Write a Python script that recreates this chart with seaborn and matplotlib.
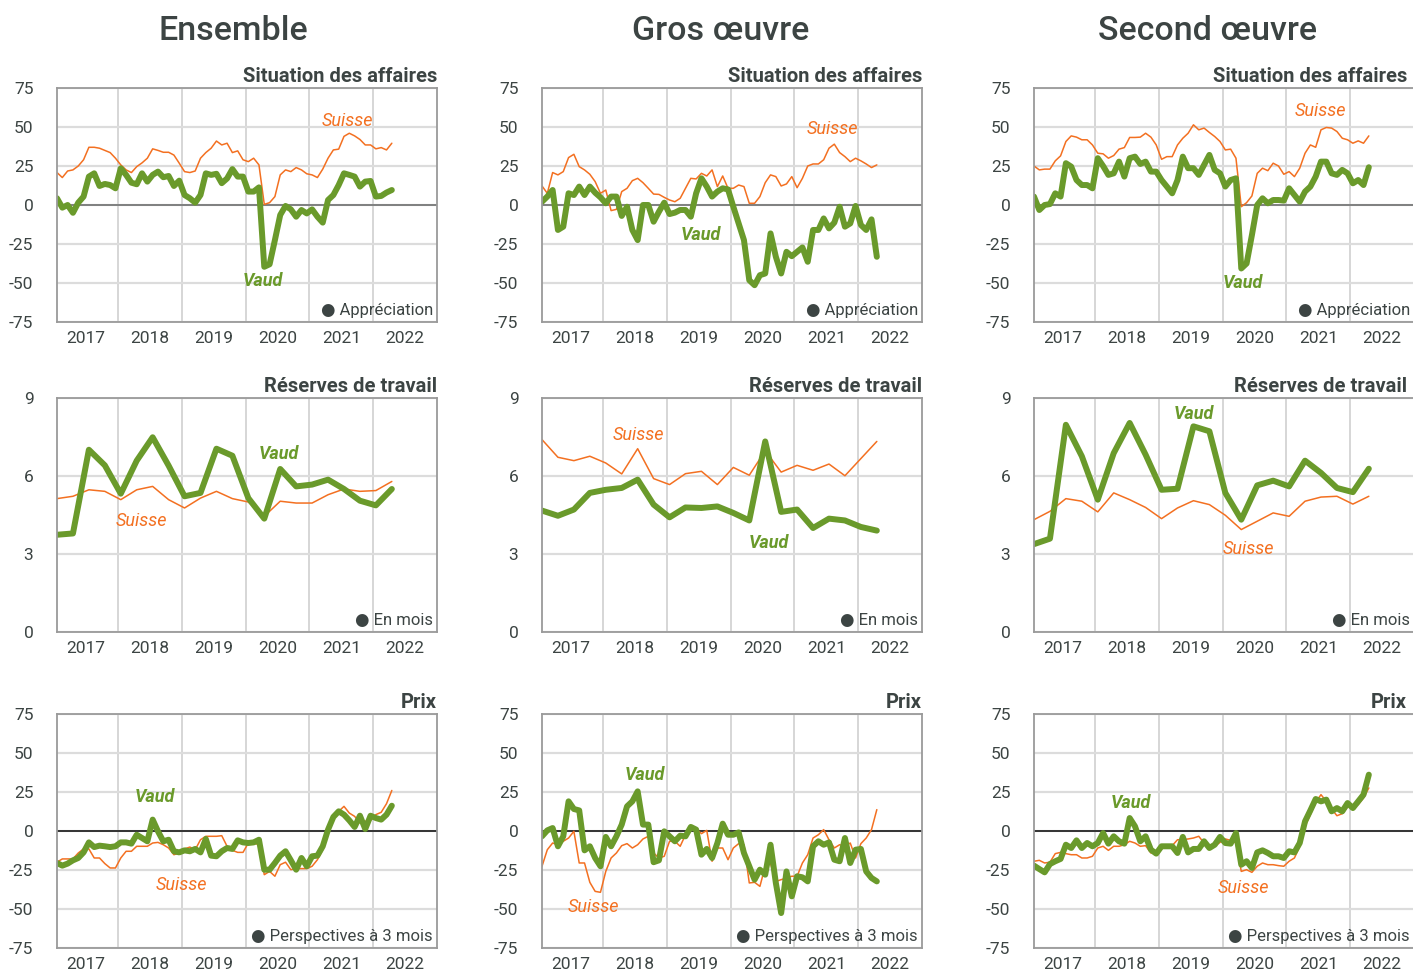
import numpy as np
import seaborn as sns
import matplotlib.pyplot as plt
from matplotlib import font_manager

# Séries mensuelles (janv. 2017 - avr. 2022), trimestrielles pour les réserves
ens_aff_vaud = [4.3, -1.7, 0, -5, 1.5, 5.4, 18.2, 20.3, 12.2, 13.5, 12.8, 10.7,
                23.5, 19.3, 14.3, 13.3, 20.3, 15, 19.3, 21.4, 17.8, 18.6, 12.2, 15.6,
                6.4, 4.3, 1.5, 6.4, 20.3, 19.3, 20, 14, 17, 23, 18.2, 18.2,
                8.6, 8.6, 11.3, -39.6, -38, -22.5, -6.4, -0.6, -2.8, -7.5, -3.2, -5.4,
                -2.8, -7.5, -11.3, 3.2, 6.4, 12.8, 20.3, 19.3, 18.2, 11.8, 15, 15.4,
                5.4, 5.8, 8, 9.6]
ens_aff_suisse = [20.8, 17.6, 21.8, 22.5, 25, 29, 37, 37, 36.4, 35, 33.6, 30,
                  25.7, 22.5, 20.8, 24.6, 27, 30, 36, 35, 33.8, 33.8, 32, 26.8,
                  21.4, 20.8, 21.8, 30, 33.6, 36.4, 41, 38.5, 39.6, 33.6, 34.7, 29,
                  27.8, 30, 25.7, 0.4, 1.5, 5.4, 19.3, 22.5, 21.4, 24, 22.5, 20,
                  19.3, 17.6, 23, 30, 35.3, 35.8, 44, 46, 44.3, 42, 38.5, 38.5,
                  36, 36.8, 35.3, 39.6]
gros_aff_vaud = [2.1, 5.4, 9.6, -16, -13.9, 7.5, 6.4, 11.8, 6.4, 11.8, 7.9, 4.9,
                 1.1, 5.4, 5.4, -7, -1.1, -16, -22.5, 0, 0, -10.7, -4.3, 1.5,
                 -5.8, -4.9, -3.2, -3.2, -7.5, 7.5, 17.1, 11.8, 5.4, 8.6, 10.7, 10,
                 -1.1, -11.8, -22.5, -48.2, -51.4, -45, -43.9, -18.2, -33.2, -43.9, -30, -32.8,
                 -30, -27.2, -36.4, -16, -16, -8.6, -15, -11.3, -1.1, -13.9, -11.8, -0.6,
                 -12.8, -16, -9.2, -33.2]
gros_aff_suisse = [12.2, 7.5, 20.8, 19.3, 21.4, 30.4, 32.5, 24.6, 22.5, 19.7, 15, 7.5,
                   9.6, -3.6, -2.8, 8.6, 10.7, 15.6, 17.1, 14.3, 10.7, 7, 6.8, 4.9,
                   3.2, 2.1, 4.3, 10.7, 17.1, 16.7, 20.3, 18.6, 22.5, 11.8, 18.6, 10.7,
                   10.7, 12.8, 11.8, 1.1, 1.1, 5.4, 14.3, 19.3, 18.2, 12.2, 13.5, 18.2,
                   11.1, 17.1, 25, 26.3, 26.3, 29, 36.4, 39, 33.6, 31, 27.8, 30,
                   28.3, 26.3, 24, 25.7]
sec_aff_vaud = [5.4, -3.2, 0, 0.6, 7.5, 5.4, 26.8, 24.6, 16, 12.8, 12.8, 10.7,
                30, 25, 19.3, 20.3, 27.8, 18.2, 30, 31, 26.3, 27.8, 21.4, 21.4,
                16, 11.8, 7.5, 16, 31, 23.6, 23.6, 19.3, 25.7, 32.1, 22.5, 20.3,
                11.8, 16, 17.1, -40.7, -37.5, -19.3, 0, 4.3, 1.1, 3.2, 3.2, 2.8,
                10.7, 6.4, 2.1, 8.6, 11.8, 18.2, 27.8, 27.8, 20.3, 19.3, 22.5, 20.3,
                13.9, 16, 12.8, 24.2]
sec_aff_suisse = [25, 22.5, 23, 23, 28.3, 31.5, 40.7, 44.3, 43.5, 41.8, 41.8, 38.5,
                  33.2, 32.8, 30, 31.7, 35.8, 36.8, 43.3, 43.3, 43.5, 46, 43.5, 38.5,
                  29.3, 31, 31, 38.5, 42.8, 46, 51.4, 48.2, 49.3, 46.5, 43.9, 40.7,
                  35.3, 35.8, 30, -1.1, 1.5, 5.8, 20.3, 23.6, 22, 26.8, 25, 19.7,
                  21.4, 18.2, 23.6, 33.2, 38.5, 37, 48.2, 49.7, 49.3, 47.1, 42.8, 41.8,
                  39.6, 41.1, 39.6, 44.3]

ens_res_vaud = [3.74, 3.79, 7.01, 6.41, 5.32, 6.59, 7.49, 6.4, 5.22, 5.35, 7.05,
                6.78, 5.15, 4.36, 6.27, 5.6, 5.67, 5.86, 5.5, 5.05, 4.87, 5.5]
ens_res_suisse = [5.13, 5.22, 5.47, 5.41, 5.09, 5.47, 5.6, 5.09, 4.77, 5.15, 5.41,
                  5.13, 5.0, 4.45, 5.03, 4.96, 4.96, 5.28, 5.5, 5.41, 5.44, 5.79]
gros_res_vaud = [4.67, 4.47, 4.71, 5.35, 5.47, 5.54, 5.86, 4.9, 4.41, 4.79, 4.77,
                 4.83, 4.58, 4.29, 7.33, 4.62, 4.71, 4.0, 4.36, 4.29, 4.04, 3.9]
gros_res_suisse = [7.4, 6.72, 6.59, 6.76, 6.5, 6.08, 7.05, 5.9, 5.67, 6.09, 6.18,
                   5.67, 6.33, 6.03, 6.97, 6.15, 6.41, 6.22, 6.46, 6.01, 6.67, 7.33]
sec_res_vaud = [3.38, 3.59, 7.97, 6.76, 5.09, 6.88, 8.04, 6.82, 5.47, 5.51, 7.91,
                7.72, 5.35, 4.32, 5.64, 5.82, 5.6, 6.59, 6.12, 5.54, 5.38, 6.28]
sec_res_suisse = [4.32, 4.64, 5.13, 5.03, 4.62, 5.35, 5.09, 4.79, 4.36, 4.77, 5.05,
                  4.9, 4.49, 3.94, 4.26, 4.58, 4.45, 5.03, 5.19, 5.22, 4.92, 5.22]

ens_prix_vaud = [-20.5, -22.2, -20.9, -18.8, -17.3, -13.7, -7.3, -10.3, -9.4, -9.8, -10.3, -9.8,
                 -7.3, -7.3, -8.1, -2.4, -4.5, -6.6, 7.3, -0.2, -6.6, -5.6, -13, -13.7,
                 -12.4, -13, -11.5, -13.7, -5.1, -15.8, -16.2, -13, -10.9, -11.5, -6, -7.3,
                 -7.7, -7.3, -5.6, -24.8, -24.8, -20.5, -15.8, -13, -18.8, -24.8, -17.3, -22.6,
                 -16.2, -15.8, -9.8, 0.9, 9, 12.6, 10.5, 6.8, 2.6, 9.8, 1.3, 9.8,
                 8.3, 7.3, 10.5, 16.2]
ens_prix_suisse = [-20, -17.9, -17.9, -17.9, -14.1, -11.5, -11.5, -17.3, -17.3, -20.9, -23.7, -23.7,
                   -17.3, -13, -13, -9.8, -9.8, -9.8, -7.7, -7.3, -8.8, -10.9, -15.2, -14.1,
                   -11.5, -10.3, -12, -5.6, -3.4, -3.4, -3.4, -3, -9.8, -12.4, -13.7, -13.7,
                   -7.7, -7.7, -8.8, -28, -25.9, -29, -21.6, -20, -24.8, -24.1, -24.1, -24.1,
                   -22.6, -18.4, -12, -0.2, 8.3, 12.6, 15.8, 11.5, 9.4, 5.1, 6.2, 6.8,
                   10.5, 12, 17.5, 26]
gros_prix_vaud = [-3.4, 0.4, 1.9, -9.8, -3.4, 19, 14.1, 13.2, -12.4, -9.8, -17.3, -22.6,
                  -3.8, -9.8, -3.4, 4.1, 15.8, 19, 25.4, 4.1, 4.1, -20, -18.8, -0.2,
                  -3.4, -6.6, -3, -3.4, 2.6, 0.9, -15.2, -11.5, -17.3, -7.7, 4.7, -2.4,
                  -2.4, -0.9, -14.1, -22.6, -31.2, -24.8, -28, -8.8, -33.3, -52.6, -25.9, -41.9,
                  -29, -29.7, -32.3, -9.8, -6.6, -8.8, -7.3, -18.4, -19.4, -4.5, -20.5, -12,
                  -11.5, -25.9, -30.1, -32.3]
gros_prix_suisse = [-22.6, -12, -7.7, -8.8, -6.6, -4.5, -0.2, -20.5, -20.5, -32.9, -38.7, -39.3,
                    -25.9, -17.3, -14.1, -9.4, -8.1, -10.9, -8.8, -5.1, -3.4, -14.1, -17.3, -16.2,
                    -6.6, -6.6, -9.8, -2.4, 3.4, 1.3, -1.7, 0.4, -19.4, -10.9, -10.9, -18.4,
                    -10.9, -8.1, -8.8, -33.3, -32.9, -35.5, -22.6, -20.9, -32.3, -31.2, -30.1, -29,
                    -29, -20.5, -15.2, -4.5, -2.4, 0.9, -5.6, -10.9, -8.8, -9.8, -7.7, -17.3,
                    -8.1, -4.5, 0.9, 13.7]
sec_prix_vaud = [-22.2, -24.4, -26.5, -21.2, -19.4, -17.9, -8.8, -10.9, -6, -10.9, -7.7, -9.8,
                 -7.7, -1.3, -8.1, -3.4, -6.6, -8.1, 8.3, 3, -6.6, -3.4, -12, -14.5,
                 -9.8, -9.8, -9.8, -14.1, -3.8, -13.7, -11.5, -11.5, -6.6, -10.9, -8.8, -3.8,
                 -7.7, -8.1, -1.3, -21.6, -19.4, -23.7, -13.7, -12.4, -14.1, -16.2, -16.2, -17.3,
                 -13, -13.7, -7.7, 6.2, 13.2, 20.5, 19, 20.1, 12.6, 14.7, 12.6, 17.9,
                 14.7, 19, 23.3, 36.1]
sec_prix_suisse = [-19.4, -18.8, -20.5, -20, -14.5, -13.7, -14.5, -15.2, -15.2, -17.3, -17.3, -16.2,
                   -10.9, -9.8, -12.4, -9.8, -9.8, -8.8, -6.6, -7.7, -9.8, -9.4, -14.1, -13,
                   -11.5, -9.4, -9.4, -5.6, -5.6, -5.1, -4.5, -3.4, -7.7, -11.5, -9.8, -7.3,
                   -5.1, -6, -7.7, -25.9, -24.8, -26.5, -22.6, -20.5, -21.6, -21.6, -22.2, -22.6,
                   -19.4, -17.3, -9.8, 3, 10.5, 18.4, 23.3, 19, 14.1, 9.8, 11.1, 15.4,
                   16.9, 16.9, 21.2, 27.6]

col_titles = ['Ensemble', 'Gros œuvre', 'Second œuvre']
row_titles = ['Situation des affaires', 'Réserves de travail', 'Prix']
row_notes = ['Appréciation', 'En mois', 'Perspectives à 3 mois']
years = [2017, 2018, 2019, 2020, 2021, 2022]

# positions des étiquettes Vaud / Suisse (coordonnées des données)
vaud_pos = [[(2020.27, -48.7), (2019.53, -19.2), (2020.32, -50)],
            [(2020.52, 6.85), (2020.6, 3.42), (2019.55, 8.38)],
            [(2018.58, 21.8), (2018.66, 35.9), (2018.56, 17.9)]]
suisse_pos = [[(2021.6, 54), (2021.59, 48.7), (2021.53, 60)],
              [(2018.36, 4.27), (2018.55, 7.58), (2020.41, 3.19)],
              [(2018.99, -34.6), (2017.84, -48.7), (2020.32, -36.5)]]

series = [[(ens_aff_vaud, ens_aff_suisse), (gros_aff_vaud, gros_aff_suisse), (sec_aff_vaud, sec_aff_suisse)],
          [(ens_res_vaud, ens_res_suisse), (gros_res_vaud, gros_res_suisse), (sec_res_vaud, sec_res_suisse)],
          [(ens_prix_vaud, ens_prix_suisse), (gros_prix_vaud, gros_prix_suisse), (sec_prix_vaud, sec_prix_suisse)]]

x_month = 2017 + (np.arange(64) + 0.5) / 12
x_quarter = 2017 + (3 * np.arange(22) + 0.5) / 12

sns.set_theme(style='white')
installed = {f.name for f in font_manager.fontManager.ttflist}
narrow = 'Liberation Sans Narrow' if 'Liberation Sans Narrow' in installed else 'Roboto'
plt.rcParams['font.family'] = [narrow, 'DejaVu Sans']
plt.rcParams['axes.unicode_minus'] = False

GREEN = '#6a9a2b'
ORANGE = '#f37021'
DARK = '#3c4443'

W, H = 1413, 972
fig = plt.figure(figsize=(W / 100, H / 100), dpi=100)

lefts = [57, 542, 1034]
tops = [88, 398, 714]
aw, ah = 380, 234

for c, ctitle in enumerate(col_titles):
    fig.text([233, 721, 1207][c] / W, 1 - 31 / H, ctitle, ha='center', va='center',
             fontsize=24.5, color=DARK, family='Roboto', fontweight='medium')

for r in range(3):
    for c in range(3):
        ax = fig.add_axes([lefts[c] / W, 1 - (tops[r] + ah) / H, aw / W, ah / H])
        vaud, suisse = series[r][c]
        xs = x_quarter if r == 1 else x_month

        sns.lineplot(x=xs, y=suisse, ax=ax, color=ORANGE, linewidth=1.1)
        sns.lineplot(x=xs, y=vaud, ax=ax, color=GREEN, linewidth=4.3)

        if r == 1:
            ax.set_ylim(0, 9)
            ax.set_yticks([0, 3, 6, 9])
        else:
            ax.set_ylim(-75, 75)
            ax.set_yticks([-75, -50, -25, 0, 25, 50, 75])
            ax.axhline(0, color='#7f8080' if r == 0 else '#333333', lw=1.4, zorder=1.5)

        ax.set_xlim(x_month[0], 2023)
        ax.set_xticks([y + 0.5 for y in years])
        ax.set_xticklabels([str(y) for y in years])
        ax.set_xticks(years[1:], minor=True)
        ax.grid(True, which='minor', axis='x', color='#d3d3d3', lw=1.3)
        ax.grid(True, which='major', axis='y', color='#dcdcdc', lw=1.6)
        ax.set_axisbelow(True)
        ax.tick_params(axis='both', which='both', length=0, colors=DARK, labelsize=12.5)
        ax.tick_params(axis='y', pad=17)
        ax.tick_params(axis='x', pad=6.5)
        for sp in ax.spines.values():
            sp.set_color('#9a9a9a')
            sp.set_linewidth(1.3)
        ax.set_xlabel('')
        ax.set_ylabel('')

        xr = 1 - 7 / aw if c == 2 else 1.0
        ax.text(xr, 1.01, row_titles[r], transform=ax.transAxes, ha='right', va='bottom',
                fontsize=14.5, color=DARK, family='Roboto', fontweight='bold')
        ax.text(1 - 4 / aw, 12 / ah, '● ' + row_notes[r], transform=ax.transAxes,
                ha='right', va='center', fontsize=12, color=DARK,
                family=[narrow, 'DejaVu Sans'])

        vx, vy = vaud_pos[r][c]
        sx, sy = suisse_pos[r][c]
        ax.text(vx, vy, 'Vaud', ha='center', va='center', color=GREEN, fontsize=13,
                fontstyle='italic', fontweight='bold')
        ax.text(sx, sy, 'Suisse', ha='center', va='center', color=ORANGE, fontsize=13,
                fontstyle='italic')

fig.savefig('out.png', dpi=100)
